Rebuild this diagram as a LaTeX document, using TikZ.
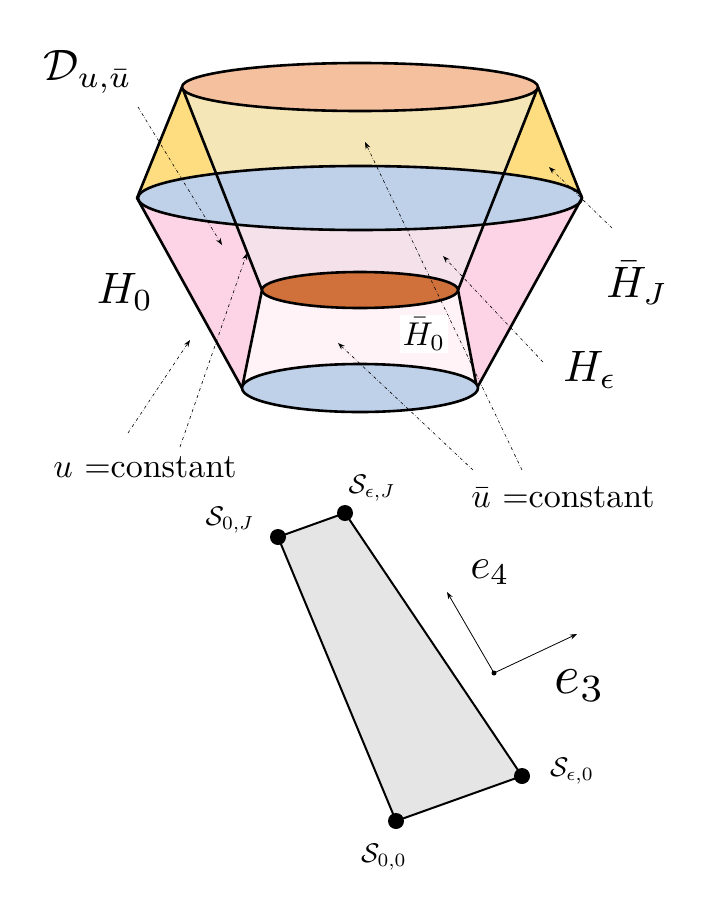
\documentclass[tikz,border=0pt]{standalone}
\usepackage{amsmath}
\usetikzlibrary{arrows.meta}
\definecolor{topor}{HTML}{F5C09E}
\definecolor{yelo}{HTML}{FDDD80}
\definecolor{yeli}{HTML}{F5E6B8}
\definecolor{bluec}{HTML}{BFD0E9}
\definecolor{pinko}{HTML}{FDD4E5}
\definecolor{pinki}{HTML}{F5E1EA}
\definecolor{orng}{HTML}{D0703A}
\definecolor{pinkl}{HTML}{FFF3F7}
\definecolor{greyq}{HTML}{E5E5E5}
\tikzset{edge/.style={line width=2.6pt,line join=round},
 ann/.style={dash dot,line width=0.6pt,-{Stealth[length=7pt,width=5pt]}},
 dot/.style={circle,fill=black,inner sep=0pt,minimum size=13pt},
 big/.style={scale=4.4},
 med/.style={scale=3.4},
 sm/.style={scale=2.7}}
\begin{document}
\begin{tikzpicture}[x=1pt,y=-1pt]
\useasboundingbox (0,0) rectangle (720,900);
% outer fills
\fill[pinko] (137,198) -- (582,198) -- (477,388) -- (242,388) -- cycle;
\fill[yelo] (137,198) -- (182,87) -- (538,87) -- (582,198) -- cycle;
\fill[pinki] (223,198) -- (497,198) -- (458,290) -- (262,290) -- cycle;
\fill[yeli] (182,87) -- (538,87) -- (497,198) -- (223,198) -- cycle;
\filldraw[fill=bluec,edge] (360,198) ellipse [x radius=222,y radius=32];
\fill[pinkl] (262,290) -- (458,290) -- (477,388) -- (242,388) -- cycle;
% edges
\draw[edge] (182,87) -- (137,198) -- (242,388);
\draw[edge] (538,87) -- (582,198) -- (477,388);
\draw[edge] (182,87) -- (262,290) -- (242,388);
\draw[edge] (538,87) -- (458,290) -- (477,388);
\filldraw[fill=topor,edge] (360,87) ellipse [x radius=178,y radius=24];
\filldraw[fill=orng,edge] (360,290) ellipse [x radius=98,y radius=18];
\filldraw[fill=bluec,edge] (360,388) ellipse [x radius=118,y radius=24];
% annotation arrows
\coordinate (a1) at (138,107); \coordinate (b1) at (222,245);
\coordinate (a2) at (128,433); \coordinate (b2) at (190,340);
\coordinate (a3) at (180,447); \coordinate (b3) at (247,253);
\coordinate (a4) at (473,470); \coordinate (b4) at (338,343);
\coordinate (a5) at (522,470); \coordinate (b5) at (365,142);
\coordinate (a6) at (543,362); \coordinate (b6) at (443,256);
\coordinate (a7) at (612,228); \coordinate (b7) at (549,167);
\foreach \i in {1,...,7} \draw[ann] (a\i) -- (b\i);
% labels
\node[big] (D) at (88,72) {$\mathcal{D}_{u,\bar u}$};
\node[big] (H0) at (125,292) {$H_0$};
\node[big] (HJ) at (637,283) {$\bar H_J$};
\node[big] (He) at (590,370) {$H_\epsilon$};
\node[fill=white,scale=3.3,inner sep=1pt] (Hb0) at (424,334) {$\bar H_0$};
\node[med] (uc) at (145,467) {$u$ =constant};
\node[med] (ubc) at (563,497) {$\bar u$ =constant};
% quadrilateral
\node[dot] (s0J) at (278,537) {};
\node[dot] (seJ) at (345,513) {};
\node[dot] (se0) at (522,776) {};
\node[dot] (s00) at (396,821) {};
\draw[line width=2pt,line join=round,fill=greyq] (s0J.center) -- (seJ.center) -- (se0.center) -- (s00.center) -- cycle;
\foreach \n in {s0J,seJ,se0,s00} \fill (\n) circle (8pt);
\node[sm] at (230,520) {$\mathcal{S}_{0,J}$};
\node[sm] at (372,488) {$\mathcal{S}_{\epsilon,J}$};
\node[sm] at (572,771) {$\mathcal{S}_{\epsilon,0}$};
\node[sm] at (384,857) {$\mathcal{S}_{0,0}$};
% axes
\coordinate (o) at (494,673);
\fill (o) circle (2.5pt);
\node (e4t) at (447,592) {}; \node (e3t) at (577,634) {};
\draw[line width=0.8pt,-{Stealth[length=7pt,width=5pt]}] (o) -- (e4t.center);
\draw[line width=0.8pt,-{Stealth[length=7pt,width=5pt]}] (o) -- (e3t.center);
\node[scale=4.3] at (490,572) {$e_4$};
\node[scale=5.5] at (580,686) {$e_3$};
\end{tikzpicture}
\end{document}
